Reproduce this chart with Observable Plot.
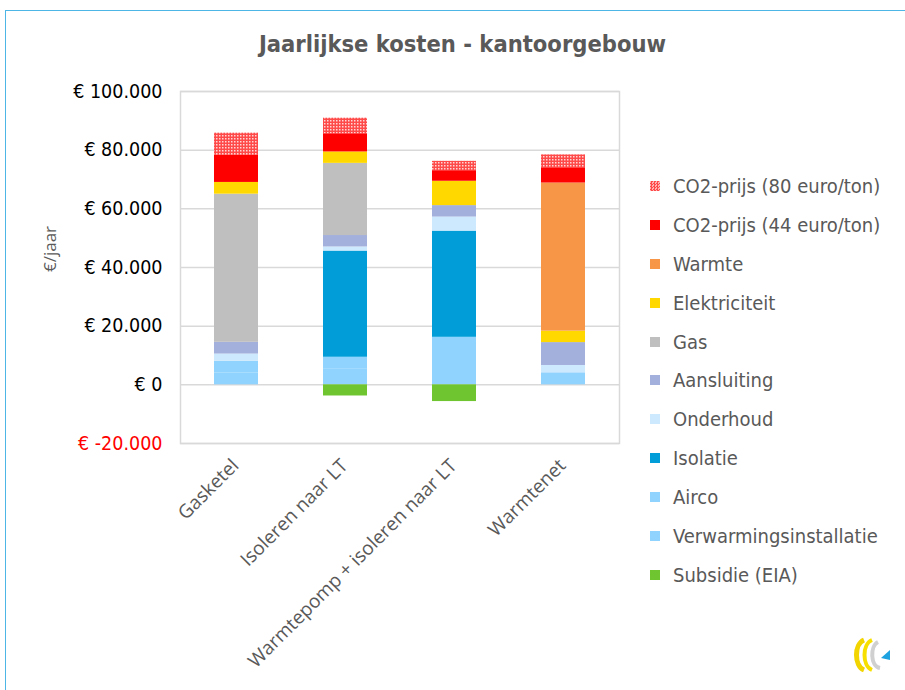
<!DOCTYPE html>
<html>
<head>
<meta charset="utf-8">
<script src="https://cdn.jsdelivr.net/npm/d3@7"></script>
<script src="https://cdn.jsdelivr.net/npm/@observablehq/plot@0.6"></script>
<style>
  html, body { margin: 0; padding: 0; background: #fff; }
  #wrap { position: relative; width: 905px; height: 690px; overflow: hidden; background: #fff; }
  #border { position: absolute; left: 5px; top: 10px; width: 920px; height: 700px; border: 1.5px solid #4db6e6; box-sizing: border-box; }
  #title { position: absolute; left: 0; width: 925px; top: 30px; text-align: center; font-family: "DejaVu Sans Condensed", "DejaVu Sans", sans-serif; font-weight: bold; font-size: 23.5px; color: #595959; }
  #ylabel { position: absolute; left: 49px; top: 249px; transform: translate(-50%, -50%) rotate(-90deg); font-family: "Open Sans", sans-serif; font-size: 17px; color: #595959; white-space: nowrap; }
  #chart { position: absolute; left: 0; top: 0; }
  #legend { position: absolute; left: 650px; top: 166.5px; font-family: "DejaVu Sans Condensed", "DejaVu Sans", sans-serif; font-size: 20px; color: #595959; }
  .item { height: 38.9px; display: flex; align-items: center; white-space: nowrap; }
  .sw { width: 10px; height: 10px; margin-right: 13px; flex: none; }
  #logo { position: absolute; left: 850px; top: 636px; }
</style>
</head>
<body>
<div id="wrap">
  <div id="border"></div>
  <div id="title">Jaarlijkse kosten - kantoorgebouw</div>
  <div id="ylabel">€/jaar</div>
  <div id="chart"></div>
  <div id="legend"></div>
  <svg id="logo" width="45" height="40" viewBox="0 0 45 40">
    <path d="M14 4 C4 8 4 30 14 34" fill="none" stroke="#f2d400" stroke-width="5"/>
    <path d="M22 4 C12 8 12 30 22 34" fill="none" stroke="#f7e000" stroke-width="4"/>
    <path d="M28 6 C20 10 20 30 30 32" fill="none" stroke="#d0d0d0" stroke-width="4"/>
    <path d="M31 22 L40 14 L40 24 Z" fill="#1fa3e0"/>
  </svg>
</div>
<script>
const scenarios = ["Gasketel", "Isoleren naar LT", "Warmtepomp + isoleren naar LT", "Warmtenet"];

// series values per scenario (euro/jaar)
const verwarmingsinstallatie = [4000, 5300, 10000, 4100];
const airco                  = [4000, 4100, 6200, 0];
const isolatie               = [0, 36200, 36200, 0];
const onderhoud              = [2500, 1400, 4800, 2500];
const aansluiting            = [4000, 3900, 3900, 7800];
const gas                    = [50500, 24600, 0, 0];
const elektriciteit          = [4000, 3900, 8300, 3900];
const warmte                 = [0, 0, 0, 50500];
const co2_44                 = [9200, 6200, 3600, 5200];
const co2_80                 = [7600, 5300, 3200, 4400];
const subsidie               = [0, -3800, -5700, 0];

// stacking order bottom -> top
const seriesNames = ["Verwarmingsinstallatie", "Airco", "Isolatie", "Onderhoud", "Aansluiting", "Gas", "Elektriciteit", "Warmte", "CO2-prijs (44 euro/ton)", "CO2-prijs (80 euro/ton)", "Subsidie (EIA)"];
const seriesValues = [verwarmingsinstallatie, airco, isolatie, onderhoud, aansluiting, gas, elektriciteit, warmte, co2_44, co2_80, subsidie];
const seriesColors = ["#8fd3fe", "#8fd3fe", "#009dd9", "#cde9fd", "#a3b0dc", "#bfbfbf", "#ffd800", "#f79646", "#ff0000", "url(#co2pat)", "#6fc52f"];

// legend order (top -> bottom)
const legendOrder = ["CO2-prijs (80 euro/ton)", "CO2-prijs (44 euro/ton)", "Warmte", "Elektriciteit", "Gas", "Aansluiting", "Onderhoud", "Isolatie", "Airco", "Verwarmingsinstallatie", "Subsidie (EIA)"];

const yTicks = [-20000, 0, 20000, 40000, 60000, 80000, 100000];

const data = [];
seriesNames.forEach((s, i) => {
  scenarios.forEach((c, j) => {
    data.push({scenario: c, series: s, value: seriesValues[i][j]});
  });
});

const fmt = d => "€ " + (d === 0 ? "0" : d3.format(",")(d).replace(/,/g, ".").replace("\u2212", "-"));

const chart = Plot.plot({
  width: 640,
  height: 690,
  marginLeft: 180,
  marginRight: 21,
  marginTop: 91,
  marginBottom: 247,
  style: {fontFamily: "'DejaVu Sans Condensed', 'DejaVu Sans', sans-serif", background: "transparent"},
  x: {domain: scenarios, paddingInner: 0.6, paddingOuter: 0.3, label: null},
  y: {domain: [-20000, 100000], label: null},
  color: {domain: seriesNames, range: seriesColors},
  marks: [
    Plot.gridY(yTicks, {stroke: "#d9d9d9", strokeOpacity: 1, strokeWidth: 1.5}),
    Plot.frame({stroke: "#d9d9d9", strokeWidth: 1.5}),
    Plot.barY(data, {x: "scenario", y: "value", fill: "series", order: seriesNames}),
    Plot.axisY(yTicks.filter(d => d >= 0), {tickSize: 0, tickPadding: 18, tickFormat: fmt, fontSize: 19.5, fill: "#000", label: null}),
    Plot.axisY(yTicks.filter(d => d < 0), {tickSize: 0, tickPadding: 18, tickFormat: fmt, fontSize: 19.5, fill: "#ff0000", label: null}),
    Plot.axisX({tickSize: 0, tickPadding: 19, dx: -1, tickRotate: -45, fontSize: 19, fill: "#595959", fontFamily: "'Open Sans', sans-serif", label: null})
  ]
});

// pattern for CO2-prijs (80 euro/ton)
const ns = "http://www.w3.org/2000/svg";
const defs = document.createElementNS(ns, "defs");
defs.innerHTML = '<pattern id="co2pat" width="3" height="3" patternUnits="userSpaceOnUse">' +
  '<rect width="3" height="3" fill="#ff4a4a"/>' +
  '<rect x="0" y="0" width="1.5" height="1.5" fill="#ffd6d6"/></pattern>';
chart.insertBefore(defs, chart.firstChild);
document.getElementById("chart").appendChild(chart);

// legend
const legend = document.getElementById("legend");
legendOrder.forEach(name => {
  const i = seriesNames.indexOf(name);
  const item = document.createElement("div");
  item.className = "item";
  const sw = document.createElement("div");
  sw.className = "sw";
  if (seriesColors[i].startsWith("url")) {
    sw.style.background = "repeating-conic-gradient(#ff4a4a 0 25%, #ffb0b0 0 50%) 0 0 / 3px 3px";
  } else {
    sw.style.background = seriesColors[i];
  }
  const t = document.createElement("span");
  t.textContent = name;
  item.appendChild(sw);
  item.appendChild(t);
  legend.appendChild(item);
});
</script>
</body>
</html>
